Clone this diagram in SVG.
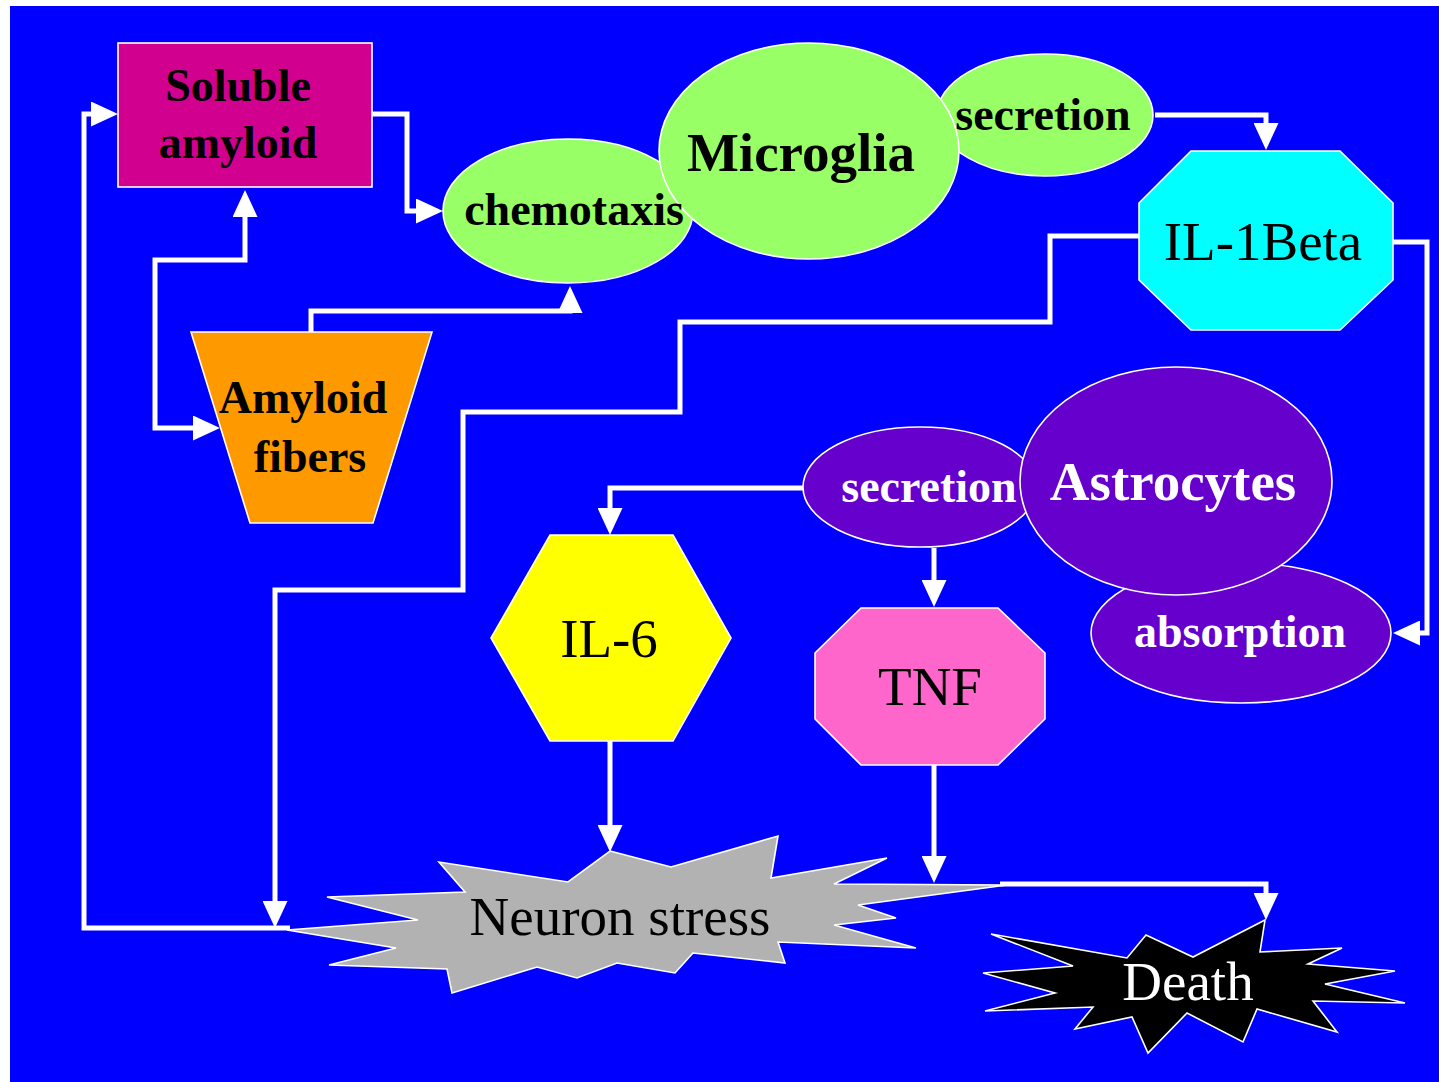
<svg xmlns="http://www.w3.org/2000/svg" width="1439" height="1082" viewBox="0 0 1439 1082">
  <defs>
    <marker id="arrow" viewBox="0 0 27 25" markerWidth="27" markerHeight="25" refX="17" refY="12.5" orient="auto-start-reverse" markerUnits="userSpaceOnUse">
      <path d="M0,0 L27,12.5 L0,25 z" fill="#FFFFFF"/>
    </marker>
    <style>
      .bg { fill: #0000FF; }
      .link { fill: none; stroke: #FFFFFF; stroke-width: 5; marker-end: url(#arrow); }
      .shape { stroke: #FFFFFF; stroke-width: 1.6; }
      .bold { font-family: "Liberation Serif", "Times New Roman", serif; font-weight: bold; font-size: 46px; text-anchor: middle; }
      .big { font-size: 55px; }
      .plain { font-family: "Liberation Serif", "Times New Roman", serif; font-size: 55px; text-anchor: middle; }
      .dark { fill: #000000; }
      .light { fill: #FFFFFF; }
    </style>
  </defs>

  <rect x="0" y="0" width="1439" height="1082" fill="#FFFFFF"/>
  <rect class="bg" x="10" y="6" width="1429" height="1076"/>

  <!-- connectors -->
  <g id="connectors">
    <path class="link" d="M290,928 H84 V114 H108"/>
    <path class="link" d="M372,114 H407 V211 H433"/>
    <path class="link" d="M210,428 H155 V260 H245 V200" marker-start="url(#arrow)"/>
    <path class="link" d="M311,332 V311 H570 V296"/>
    <path class="link" d="M1155,115 H1266 V140"/>
    <path class="link" d="M1393,242 H1427 V633 H1403"/>
    <path class="link" d="M1139,236 H1050 V322 H680 V412 H463 V590 H275 V918"/>
    <path class="link" d="M805,488 H610 V525"/>
    <path class="link" d="M934,548 V597"/>
    <path class="link" d="M610,741 V842"/>
    <path class="link" d="M934,765 V873"/>
    <path class="link" d="M1000,884 H1266 V910"/>
  </g>

  <g id="soluble-amyloid">
    <rect class="shape" x="118" y="43" width="254" height="144" fill="#D1008F"/>
    <text class="bold dark" x="238" y="101">Soluble</text>
    <text class="bold dark" x="238" y="158">amyloid</text>
  </g>

  <g id="amyloid-fibers">
    <polygon class="shape" points="191,332 432,332 373,523 250,523" fill="#FF9900"/>
    <text class="bold dark" x="303" y="413">Amyloid</text>
    <text class="bold dark" x="310" y="472">fibers</text>
  </g>

  <!-- microglia cluster: the big cell sits over its two satellite ellipses -->
  <g id="microglia">
    <ellipse id="chemotaxis" class="shape" cx="568" cy="211" rx="125" ry="72" fill="#99FF66"/>
    <ellipse id="microglia-secretion" class="shape" cx="1045" cy="115" rx="108" ry="61" fill="#99FF66"/>
    <ellipse class="shape" cx="809" cy="151" rx="150" ry="108" fill="#99FF66"/>
    <text class="bold dark" x="574" y="225">chemotaxis</text>
    <text class="bold big dark" x="801" y="171">Microglia</text>
    <text class="bold dark" x="1043" y="130">secretion</text>
  </g>

  <g id="il-1beta">
    <polygon class="shape" points="1191,151 1340,151 1393,203 1393,280 1340,330 1191,330 1139,280 1139,203" fill="#00FFFF"/>
    <text class="plain dark" x="1263" y="260">IL-1Beta</text>
  </g>

  <!-- astrocyte cluster -->
  <g id="astrocytes">
    <ellipse id="absorption" class="shape" cx="1241" cy="633" rx="150" ry="70" fill="#6600CC"/>
    <ellipse id="astrocyte-secretion" class="shape" cx="920" cy="487" rx="117" ry="60" fill="#6600CC"/>
    <ellipse class="shape" cx="1176" cy="481" rx="156" ry="114" fill="#6600CC"/>
    <text class="bold light" x="929" y="502">secretion</text>
    <text class="bold big light" x="1173" y="500">Astrocytes</text>
    <text class="bold light" x="1240" y="647">absorption</text>
  </g>

  <g id="il-6">
    <polygon class="shape" points="550,535 673,535 731,638 673,741 550,741 491,638" fill="#FFFF00"/>
    <text class="plain dark" x="609" y="657">IL-6</text>
  </g>

  <g id="tnf">
    <polygon class="shape" points="861,608 998,608 1045,653 1045,719 998,765 861,765 815,719 815,653" fill="#FF66CC"/>
    <text class="plain dark" x="930" y="705">TNF</text>
  </g>

  <g id="neuron-stress">
    <polygon class="shape" fill="#B2B2B2" points="610,851 671,867 778,836 771,878 887,858 834,884 1007,885 858,905 896,918 834,925 916,948 778,942 785,963 693,953 675,973 617,963 577,978 537,967 452,993 447,969 329,965 396,948 287,930 418,920 327,897 465,892 439,862 568,882"/>
    <text class="plain dark" x="620" y="935">Neuron stress</text>
  </g>

  <g id="death">
    <polygon class="shape" fill="#000000" points="1265,920 1260,952 1342,948 1308,964 1395,971 1325,984 1405,1003 1313,1001 1337,1032 1257,1009 1243,1042 1187,1013 1148,1053 1132,1017 1075,1029 1093,1007 985,1011 1055,993 983,973 1073,966 991,934 1127,958 1146,935 1193,957"/>
    <text class="plain light" x="1188" y="1000">Death</text>
  </g>
</svg>
